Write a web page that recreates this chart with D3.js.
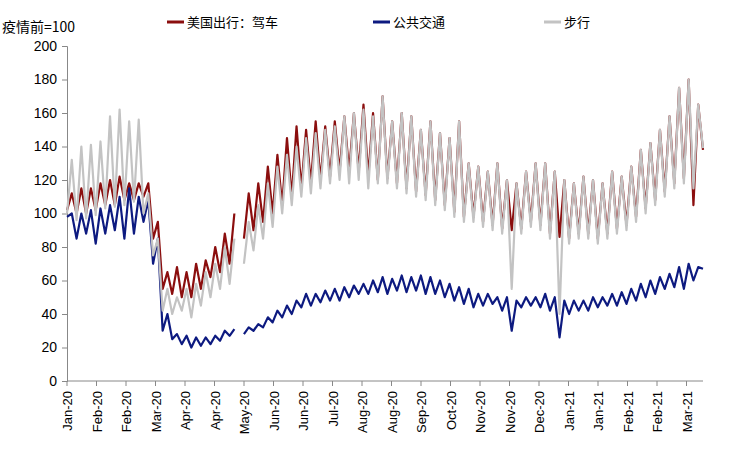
<!DOCTYPE html>
<html><head><meta charset="utf-8">
<script src="https://cdn.jsdelivr.net/npm/d3@7"></script>
<style>body{margin:0;background:#fff}svg{font-family:"Liberation Sans",Arial,sans-serif}</style>
</head><body>
<svg id="c" width="732" height="467"></svg>
<script>
'use strict';
// weekly trough/peak pairs, null = gap in the source data
var drive = [102,112,100,115,100,115,102,118,105,120,105,122,108,118,108,118,110,118,85,95,
  55,65,52,68,50,65,50,70,55,72,62,80,65,88,70,100,null,85,112,90,118,95,128,100,135,105,145,
  110,152,115,150,118,155,120,152,122,155,125,158,125,160,125,165,122,160,120,170,
  121,155,118,160,115,158,113,150,111,155,108,148,105,145,101,155,98,130,98,128,95,125,93,130,
  91,120,90,118,91,125,95,130,93,130,88,125,86,120,85,118,88,122,88,120,85,118,88,125,91,122,
  93,128,98,138,103,142,108,150,113,158,118,175,121,180,105,165,138];
var transit = [98,100,85,100,88,102,82,103,88,105,90,110,85,115,88,110,95,108,70,85,
  30,40,25,28,22,27,20,26,21,26,22,27,24,30,27,31,null,28,32,30,34,32,38,35,42,38,45,
  40,48,44,52,45,52,47,54,48,55,48,56,50,57,52,58,52,60,53,62,
  52,61,54,63,53,62,54,63,52,62,52,60,50,58,48,56,46,55,44,52,45,52,46,50,
  42,50,30,48,44,50,45,50,44,52,42,50,26,48,40,48,42,48,42,50,44,50,45,52,45,53,
  46,55,48,58,50,60,52,62,55,64,56,68,55,70,60,68,67];
var walking = [100,132,96,140,97,141,99,143,103,158,104,162,105,155,107,156,100,112,75,85,
  42,55,40,50,42,55,38,58,45,65,50,70,55,80,58,85,null,70,95,78,105,85,118,92,128,100,135,
  105,140,110,145,112,148,115,150,118,152,120,158,118,160,120,162,115,158,118,170,
  118,155,115,160,112,158,110,150,108,155,105,148,102,145,98,155,95,130,95,128,92,125,90,130,
  88,120,55,118,88,125,92,130,90,130,85,125,40,120,82,118,85,122,85,120,82,118,85,125,88,122,
  90,128,95,138,100,142,105,150,110,158,115,175,118,180,115,165,139];
var tickLabels = ['Jan-20','Feb-20','Feb-20','Mar-20','Apr-20','Apr-20','May-20','Jun-20','Jun-20',
  'Jul-20','Aug-20','Aug-20','Sep-20','Oct-20','Nov-20','Nov-20','Dec-20','Jan-21','Jan-21',
  'Feb-21','Feb-21','Mar-21'];
var yTicks = d3.range(0, 201, 20);
var seriesNames = ['美国出行：驾车', '公共交通', '步行'];
var seriesColors = ['#8b0e0e', '#0d1a80', '#c3c3c3'];

var svg = d3.select('#c');
var plotLeft = 67, plotRight = 703, plotTop = 46, plotBottom = 381;
var x = d3.scaleLinear().domain([0, drive.length - 1]).range([plotLeft, plotRight]);
var y = d3.scaleLinear().domain([0, 200]).range([plotBottom, plotTop]);
var tickStep = 29.5;

// y axis
var ya = svg.append('g').attr('transform', 'translate(' + plotLeft + ',0)')
  .call(d3.axisLeft(y).tickValues(yTicks).tickSize(5).tickPadding(5));
ya.select('.domain').attr('stroke', '#888');
ya.selectAll('.tick line').attr('stroke', '#888');
ya.selectAll('text').attr('font-size', 14).attr('fill', '#000').attr('font-family', '"Liberation Sans",Arial');

// x axis with categorical ticks
var xa = svg.append('g');
xa.append('line').attr('x1', plotLeft).attr('x2', plotRight).attr('y1', plotBottom).attr('y2', plotBottom).attr('stroke', '#888');
tickLabels.forEach(function(t, i) {
  var px = plotLeft + i * tickStep;
  xa.append('line').attr('x1', px).attr('x2', px).attr('y1', plotBottom).attr('y2', plotBottom + 5).attr('stroke', '#888');
  xa.append('text').attr('transform', 'translate(' + (px + 5) + ',' + (plotBottom + 10) + ') rotate(-90)')
    .attr('text-anchor', 'end').attr('font-size', 13).text(t);
});

var line = d3.line().defined(function(d) { return d !== null; })
  .x(function(d, i) { return x(i); }).y(function(d) { return y(d); });
[drive, transit, walking].forEach(function(s, k) {
  svg.append('path').datum(s).attr('d', line).attr('fill', 'none')
    .attr('stroke', seriesColors[k]).attr('stroke-width', 2.2).attr('stroke-linejoin', 'round');
});

// legend and unit label
svg.append('text').attr('x', 2).attr('y', 32).attr('font-size', 14).text('疫情前=100')
  .attr('font-family', '"Noto Sans CJK SC",sans-serif');
var legX = [167, 373, 544];
seriesNames.forEach(function(n, k) {
  svg.append('line').attr('x1', legX[k]).attr('x2', legX[k] + 17).attr('y1', 22).attr('y2', 22)
    .attr('stroke', seriesColors[k]).attr('stroke-width', 3);
  svg.append('text').attr('x', legX[k] + 20).attr('y', 27).attr('font-size', 13)
    .attr('font-family', '"Noto Sans CJK SC",sans-serif').text(n);
});
</script>
</body></html>
